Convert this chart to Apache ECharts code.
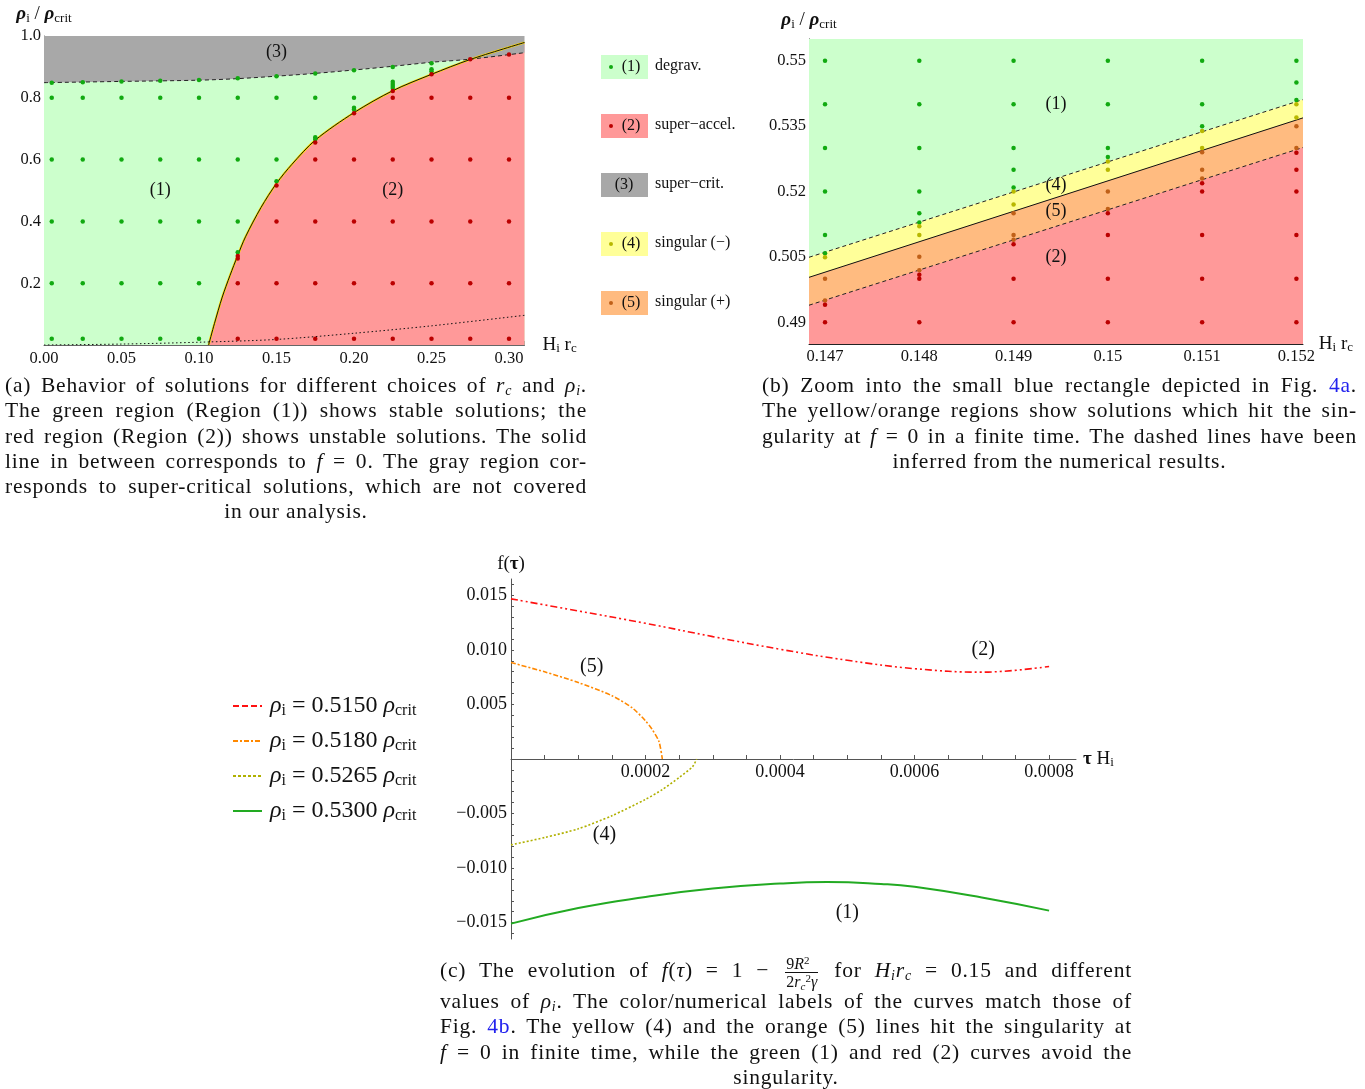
<!DOCTYPE html>
<html><head><meta charset="utf-8">
<script src="https://cdn.jsdelivr.net/npm/echarts@6/dist/echarts.min.js"></script>
<style>
html,body{margin:0;padding:0;background:#fff;}
#chart{position:absolute;left:0;top:0;width:1365px;height:1089px;}
.cap{position:absolute;font-family:"Liberation Serif","Times New Roman",serif;font-size:21.5px;letter-spacing:0.8px;color:#111;line-height:25.3px;}
.cap .j{text-align:justify;text-align-last:justify;white-space:nowrap;}
.cap .c{text-align:center;}
.cap i{font-style:italic;}
.cap sub{font-size:14px;vertical-align:-3px;line-height:0;}
.cap sup{font-size:14px;vertical-align:7px;line-height:0;}
.lnk{color:#2222ee;}
.frac{display:inline-block;vertical-align:middle;text-align:center;font-size:16px;line-height:17px;margin:0 3px;letter-spacing:0;}
.frac span{display:block;padding:0 1px;}
.frac .num{border-bottom:1px solid #111;}
</style>
</head><body>
<div id="chart"></div>
<div class="cap" style="left:5px;top:373px;width:582px;">
<div class="j">(a) Behavior of solutions for different choices of <i>r</i><sub><i>c</i></sub> and <i>ρ</i><sub><i>i</i></sub>.</div>
<div class="j">The green region (Region (1)) shows stable solutions; the</div>
<div class="j">red region (Region (2)) shows unstable solutions. The solid</div>
<div class="j">line in between corresponds to <i>f</i> = 0. The gray region cor-</div>
<div class="j">responds to super-critical solutions, which are not covered</div>
<div class="c">in our analysis.</div>
</div>
<div class="cap" style="left:762px;top:373px;width:595px;">
<div class="j">(b) Zoom into the small blue rectangle depicted in Fig. <span class="lnk">4a</span>.</div>
<div class="j">The yellow/orange regions show solutions which hit the sin-</div>
<div class="j">gularity at <i>f</i> = 0 in a finite time. The dashed lines have been</div>
<div class="c">inferred from the numerical results.</div>
</div>
<div class="cap" style="left:440px;top:951px;width:692px;">
<div class="j" style="height:38px;line-height:38px;">(c) The evolution of <i>f</i>(<i>τ</i>) = 1 − <span class="frac"><span class="num">9<i>R</i><sup style="font-size:11px;vertical-align:5px">2</sup></span><span>2<i>r</i><sub style="font-size:11px"><i>c</i></sub><sup style="font-size:11px;vertical-align:5px">2</sup><i>γ</i></span></span> for <i>H</i><sub><i>i</i></sub><i>r</i><sub><i>c</i></sub> = 0.15 and different</div>
<div class="j">values of <i>ρ</i><sub><i>i</i></sub>. The color/numerical labels of the curves match those of</div>
<div class="j">Fig. <span class="lnk">4b</span>. The yellow (4) and the orange (5) lines hit the singularity at</div>
<div class="j"><i>f</i> = 0 in finite time, while the green (1) and red (2) curves avoid the</div>
<div class="c">singularity.</div>
</div>
<script>
// ---------- Plot (a) data ----------
const aXTicks = [0, 0.05, 0.1, 0.15, 0.2, 0.25, 0.3];
const aYTicks = [0.2, 0.4, 0.6, 0.8, 1.0];
const aDashed = [[0,0.849],[0.05,0.853],[0.1,0.857],[0.125,0.862],[0.15,0.870],[0.175,0.879],[0.2,0.890],[0.225,0.902],[0.25,0.915],[0.275,0.925],[0.31,0.946]];
const aZero = [[0.1062,0],[0.11,0.07],[0.115,0.155],[0.12,0.225],[0.125,0.29],[0.13,0.35],[0.14,0.445],[0.15,0.523],[0.16,0.585],[0.175,0.663],[0.2,0.752],[0.225,0.823],[0.25,0.876],[0.275,0.924],[0.31,0.979]];
const aDotted = [[0,0],[0.05,0.003],[0.1,0.009],[0.15,0.018],[0.2,0.038],[0.25,0.062],[0.31,0.096]];
const aGreenDots = [
 [0.005,0.02],[0.025,0.02],[0.05,0.02],[0.075,0.02],[0.1,0.02],
 [0.005,0.2],[0.025,0.2],[0.05,0.2],[0.075,0.2],[0.1,0.2],
 [0.005,0.4],[0.025,0.4],[0.05,0.4],[0.075,0.4],[0.1,0.4],[0.125,0.4],
 [0.005,0.6],[0.025,0.6],[0.05,0.6],[0.075,0.6],[0.1,0.6],[0.125,0.6],[0.15,0.6],
 [0.005,0.8],[0.025,0.8],[0.05,0.8],[0.075,0.8],[0.1,0.8],[0.125,0.8],[0.15,0.8],[0.175,0.8],[0.2,0.8],
 [0.005,0.849],[0.025,0.85],[0.05,0.853],[0.075,0.855],[0.1,0.858],[0.125,0.863],[0.15,0.870],[0.175,0.879],[0.2,0.889],[0.225,0.9],[0.25,0.912],
 [0.125,0.3],[0.15,0.53],[0.175,0.672],[0.175,0.666],[0.2,0.768],[0.2,0.762],[0.225,0.852],[0.225,0.845],[0.225,0.838],[0.225,0.832],[0.25,0.892],[0.25,0.886]
];
const aRedDots = [
 [0.125,0.02],[0.15,0.02],[0.175,0.02],[0.2,0.02],[0.225,0.02],[0.25,0.02],[0.275,0.02],[0.3,0.02],
 [0.125,0.2],[0.15,0.2],[0.175,0.2],[0.2,0.2],[0.225,0.2],[0.25,0.2],[0.275,0.2],[0.3,0.2],
 [0.15,0.4],[0.175,0.4],[0.2,0.4],[0.225,0.4],[0.25,0.4],[0.275,0.4],[0.3,0.4],
 [0.175,0.6],[0.2,0.6],[0.225,0.6],[0.25,0.6],[0.275,0.6],[0.3,0.6],
 [0.225,0.8],[0.25,0.8],[0.275,0.8],[0.3,0.8],
 [0.275,0.925],[0.3,0.94],
 [0.125,0.288],[0.125,0.28],[0.15,0.516],[0.175,0.655],[0.2,0.75],[0.225,0.822],[0.25,0.876]
];
const aBlueRect = [[0.147,0.485],[0.152,0.555]];
const aLabels = [['(3)',0.15,0.948],['(1)',0.075,0.5],['(2)',0.225,0.5]];

// ---------- Plot (b) data ----------
const bXTicks = [0.147, 0.148, 0.149, 0.15, 0.151, 0.152];
const bYTicks = [0.49, 0.505, 0.52, 0.535, 0.55];
const bUpper = [[0.14683,0.5049],[0.15207,0.5411]];
const bSolid = [[0.14683,0.5003],[0.15207,0.5369]];
const bLower = [[0.14683,0.4939],[0.15207,0.5301]];
const bGreenDots = [
 [0.147,0.55],[0.147,0.54],[0.147,0.53],[0.147,0.52],[0.147,0.51],[0.147,0.5058],
 [0.148,0.55],[0.148,0.54],[0.148,0.53],[0.148,0.52],[0.148,0.515],[0.148,0.5129],
 [0.149,0.55],[0.149,0.54],[0.149,0.53],[0.149,0.525],[0.149,0.5209],
 [0.15,0.55],[0.15,0.54],[0.15,0.53],[0.15,0.5279],
 [0.151,0.55],[0.151,0.54],[0.151,0.535],
 [0.152,0.55],[0.152,0.545],[0.152,0.541]
];
const bYellowDots = [
 [0.147,0.5049],[0.148,0.512],[0.148,0.51],[0.149,0.52],[0.149,0.517],
 [0.15,0.5269],[0.15,0.525],[0.151,0.5339],[0.151,0.53],[0.152,0.54],[0.152,0.537]
];
const bOrangeDots = [
 [0.147,0.5],[0.147,0.495],[0.148,0.505],[0.148,0.5019],[0.149,0.515],[0.149,0.51],[0.149,0.5089],
 [0.15,0.52],[0.15,0.516],[0.151,0.529],[0.151,0.525],[0.151,0.523],[0.152,0.535],[0.152,0.53]
];
const bRedDots = [
 [0.147,0.494],[0.147,0.49],
 [0.148,0.5009],[0.148,0.5],[0.148,0.49],
 [0.149,0.5079],[0.149,0.5],[0.149,0.49],
 [0.15,0.515],[0.15,0.51],[0.15,0.5],[0.15,0.49],
 [0.151,0.5219],[0.151,0.52],[0.151,0.51],[0.151,0.5],[0.151,0.49],
 [0.152,0.5289],[0.152,0.525],[0.152,0.52],[0.152,0.51],[0.152,0.5],[0.152,0.49]
];
const bLabels = [['(1)',0.14945,0.5401],['(4)',0.14945,0.5214],['(5)',0.14945,0.5155],['(2)',0.14945,0.5049]];

// ---------- Plot (c) data ----------
const cXLabelTicks = [0.0002, 0.0004, 0.0006, 0.0008];
const cXMinorTicks = [0.00005,0.0001,0.00015,0.0002,0.00025,0.0003,0.00035,0.0004,0.00045,0.0005,0.00055,0.0006,0.00065,0.0007,0.00075,0.0008];
const cYLabelTicks = [-0.015, -0.01, -0.005, 0.005, 0.01, 0.015];
const cYMinorTicks = [-0.016,-0.015,-0.014,-0.013,-0.012,-0.011,-0.01,-0.009,-0.008,-0.007,-0.006,-0.005,-0.004,-0.003,-0.002,-0.001,0.001,0.002,0.003,0.004,0.005,0.006,0.007,0.008,0.009,0.01,0.011,0.012,0.013,0.014,0.015,0.016];
const cRed = [[0,0.01468],[0.0001,0.01357],[0.0002,0.01244],[0.0003,0.01122],[0.0004,0.01006],[0.0005,0.00905],[0.0006,0.00828],[0.0007,0.00796],[0.0008,0.00848]];
const cOrange = [[0,0.00884],[0.00005,0.00799],[0.0001,0.00701],[0.00015,0.0058],[0.00018,0.0047],[0.0002,0.0035],[0.00021,0.0027],[0.00022,0.0016],[0.000225,0]];
const cOlive = [[0,-0.00787],[0.00005,-0.0072],[0.0001,-0.0064],[0.00015,-0.0052],[0.0002,-0.0037],[0.000225,-0.0028],[0.00025,-0.0017],[0.00027,-0.0007],[0.000276,0]];
const cGreen = [[0,-0.01509],[0.0001,-0.01366],[0.0002,-0.01265],[0.0003,-0.01188],[0.0004,-0.01142],[0.00047,-0.01128],[0.00055,-0.01145],[0.0006,-0.01172],[0.0007,-0.0127],[0.0008,-0.0139]];
const cLabels = [['(2)',0.000702,0.0100],['(5)',0.00012,0.00844],['(4)',0.000139,-0.00697],['(1)',0.0005,-0.01413]];
const cLegendNames = ['0.5150','0.5180','0.5265','0.5300'];

// ---------- Legend (a/b) ----------
const regionLegend = [['(1)','degrav.'],['(2)','super\u2212accel.'],['(3)','super\u2212crit.'],['(4)','singular (\u2212)'],['(5)','singular (+)']];

const SERIF = '"Liberation Serif","Times New Roman",serif';
const C = {
  green:'#ccffcc', red:'#ff9999', gray:'#a8a8a8', yellow:'#ffff99', orange:'#ffbb80',
  gDot:'#11aa11', rDot:'#bb0000', yDot:'#b8b800', oDot:'#c06018',
  cRed:'#ff1111', cOrange:'#ff8800', cOlive:'#b0b000', cGreen:'#22aa22'
};
const regionFill = [C.green, C.red, C.gray, C.yellow, C.orange];
const regionDot = [C.gDot, C.rDot, null, C.yDot, C.oDot];

const axisTitle = {
  b:{fontFamily:SERIF,fontSize:19,fontWeight:'bold',fontStyle:'italic',color:'#111'},
  s:{fontFamily:SERIF,fontSize:13,color:'#111',padding:[8,0,0,0]},
  n:{fontFamily:SERIF,fontSize:19,color:'#111'},
  bn:{fontFamily:SERIF,fontSize:19,fontWeight:'bold',color:'#111'}
};
const rhoTitle = '{b|ρ}{s|i}{n| / }{b|ρ}{s|crit}';
const hrTitle = '{n|H}{s|i}{n| r}{s|c}';

const tickFont = {fontFamily:SERIF,fontSize:16.5,color:'#111'};
const tickFontC = {fontFamily:SERIF,fontSize:18,color:'#111'};

function areaSeries(data, color, origin, xi, z){
  return {type:'line', data, xAxisIndex:xi, yAxisIndex:xi, symbol:'none', silent:true,
    lineStyle:{width:0,opacity:0}, areaStyle:{color, opacity:1, origin}, z, smooth:0.3};
}
function lineS(data, color, width, type, xi, z, smooth){
  return {type:'line', data, xAxisIndex:xi, yAxisIndex:xi, symbol:'none', silent:true,
    lineStyle:{color, width, type}, z, smooth: smooth===undefined?0.3:smooth};
}
function dots(data, color, xi, size){
  return {type:'scatter', data, xAxisIndex:xi, yAxisIndex:xi, symbolSize:size||4.5, silent:true,
    itemStyle:{color, opacity:1}, z:10};
}
function labels(arr, xi, size){
  return {type:'scatter', xAxisIndex:xi, yAxisIndex:xi, symbolSize:1, silent:true, z:12,
    itemStyle:{color:'rgba(0,0,0,0)'},
    data: arr.map(a=>({name:a[0], value:[a[1],a[2]]})),
    label:{show:true, position:'inside', formatter:p=>p.name, fontFamily:SERIF, fontSize:size||18, color:'#111', opacity:1}};
}

const chart = echarts.init(document.getElementById('chart'), null, {renderer:'canvas'});

const graphic = [];
regionLegend.forEach((r,i)=>{
  const cy = 67 + i*59;
  graphic.push({type:'rect', shape:{x:601,y:cy-12,width:47,height:24}, style:{fill:regionFill[i]}, silent:true});
  if (regionDot[i]) graphic.push({type:'circle', shape:{cx:611,cy:cy,r:2}, style:{fill:regionDot[i]}, silent:true});
  graphic.push({type:'text', x: regionDot[i]?631:624, y:cy, style:{text:r[0], font:'16px '+SERIF, fill:'#111', align:'center', verticalAlign:'middle'}, silent:true});
  graphic.push({type:'text', x:655, y:cy-1, style:{text:r[1], font:'16px '+SERIF, fill:'#111', align:'left', verticalAlign:'middle'}, silent:true});
});
const cLegColors = [C.cRed, C.cOrange, C.cOlive, C.cGreen];
const cLegDash = [[6,3],[5,2,2,2],[3,2],null];
cLegendNames.forEach((v,i)=>{
  const cy = 706 + i*35;
  graphic.push({type:'line', shape:{x1:233,y1:cy,x2:262,y2:cy}, style:{stroke:cLegColors[i], lineWidth:2, lineDash:cLegDash[i]}, silent:true});
  graphic.push({type:'text', x:270, y:cy, silent:true, style:{
    text:'{r|ρ}{s|i}{t| = '+v+' }{r|ρ}{s|crit}', verticalAlign:'middle', align:'left',
    rich:{
      r:{fontFamily:SERIF,fontSize:24,fontStyle:'italic',fill:'#111',color:'#111'},
      s:{fontFamily:SERIF,fontSize:16,fill:'#111',color:'#111',padding:[10,0,0,0]},
      t:{fontFamily:SERIF,fontSize:24,fill:'#111',color:'#111'}
    }}});
});

const option = {
  animation:false,
  backgroundColor:'#fff',
  graphic,
  grid:[
    {left:44, top:36, width:480.5, height:309, containLabel:false},
    {left:809, top:39, width:494, height:305, containLabel:false},
    {left:511, top:579, width:565, height:360, containLabel:false},
    {left:511, top:758, width:565, height:1, containLabel:false}
  ],
  xAxis:[
    {type:'value', gridIndex:0, min:0, max:0.31, interval:0.05,
     name:hrTitle, nameLocation:'end', nameGap:18, nameTextStyle:{rich:axisTitle, verticalAlign:'middle'},
     axisLine:{lineStyle:{color:'#666',width:1}},
     axisTick:{show:true,inside:true,length:4,lineStyle:{color:'#666'}},
     minorTick:{show:true,splitNumber:5,length:2,lineStyle:{color:'#888'}},
     splitLine:{show:false}, minorSplitLine:{show:false},
     axisLabel:{...tickFont, margin:5, showMaxLabel:false, formatter:v=>v.toFixed(2)}},
    {type:'value', gridIndex:1, min:0.14683, max:0.15207,
     name:hrTitle, nameLocation:'end', nameGap:9, nameTextStyle:{rich:axisTitle, verticalAlign:'middle'},
     axisLine:{lineStyle:{color:'#222',width:1}},
     axisTick:{show:true,inside:true,length:4,customValues:bXTicks,lineStyle:{color:'#222'}},
     splitLine:{show:false},
     axisLabel:{...tickFont, margin:4, customValues:bXTicks, formatter:v=>String(+v.toFixed(3))}},
    {type:'value', gridIndex:2, min:0, max:0.00084, show:false,
     axisLine:{show:false}, axisTick:{show:false}, axisLabel:{show:false}, splitLine:{show:false}},
    {type:'value', gridIndex:3, min:0, max:0.00084, position:'bottom',
     name:'{bn|τ}{n| H}{s|i}', nameLocation:'end', nameGap:7, nameTextStyle:{rich:axisTitle, verticalAlign:'middle'},
     axisLine:{onZero:false, lineStyle:{color:'#555',width:1}},
     axisTick:{show:true,inside:true,length:4,customValues:cXMinorTicks,lineStyle:{color:'#555'}},
     splitLine:{show:false},
     axisLabel:{...tickFontC, margin:4, customValues:cXLabelTicks, formatter:v=>v.toFixed(4)}}
  ],
  yAxis:[
    {type:'value', gridIndex:0, min:0, max:1, interval:0.2,
     name:rhoTitle, nameLocation:'end', nameGap:11, nameTextStyle:{rich:axisTitle, align:'center'},
     axisLine:{show:true,lineStyle:{color:'#666',width:1}},
     axisTick:{show:true,inside:true,length:4,lineStyle:{color:'#666'}},
     minorTick:{show:true,splitNumber:4,length:2,lineStyle:{color:'#888'}},
     splitLine:{show:false}, minorSplitLine:{show:false},
     axisLabel:{...tickFont, margin:3, formatter:v=>v===0?'':v.toFixed(1)}},
    {type:'value', gridIndex:1, min:0.485, max:0.555,
     name:rhoTitle, nameLocation:'end', nameGap:8, nameTextStyle:{rich:axisTitle, align:'center'},
     axisLine:{show:true,lineStyle:{color:'#222',width:1}},
     axisTick:{show:true,inside:true,length:4,customValues:bYTicks,lineStyle:{color:'#222'}},
     splitLine:{show:false},
     axisLabel:{...tickFont, margin:3, customValues:bYTicks, formatter:v=>String(+v.toFixed(3))}},
    {type:'value', gridIndex:2, min:-0.0165, max:0.0165,
     name:'{n|f(}{bn|τ}{n|)}', nameLocation:'end', nameGap:5, nameTextStyle:{rich:axisTitle, align:'center'},
     axisLine:{show:true,lineStyle:{color:'#555',width:1}},
     axisTick:{show:true,inside:true,length:3,customValues:cYMinorTicks,lineStyle:{color:'#555'}},
     splitLine:{show:false},
     axisLabel:{...tickFontC, margin:4, customValues:cYLabelTicks, formatter:v=>(v<0?'\u2212':'')+Math.abs(v).toFixed(3)}},
    {type:'value', gridIndex:3, min:0, max:1, show:false, splitLine:{show:false}}
  ],
  series:[
    // plot (a)
    areaSeries(aDashed, C.green, 'start', 0, 1),
    areaSeries(aZero, C.red, 'start', 0, 2),
    areaSeries(aDashed, C.gray, 'end', 0, 3),
    lineS(aZero, '#ffdd00', 2.2, 'solid', 0, 4),
    lineS(aZero, '#111', 1, 'solid', 0, 5),
    lineS(aDashed, '#222', 1, [4,3], 0, 5),
    lineS(aDotted, '#111', 1, [1.5,2.5], 0, 5),
    dots(aGreenDots, C.gDot, 0),
    dots(aRedDots, C.rDot, 0),
    {type:'line', xAxisIndex:0, yAxisIndex:0, data:[], symbol:'none', silent:true, z:11,
     markArea:{silent:true, itemStyle:{color:'rgba(0,0,0,0)', borderColor:'#2233ff', borderWidth:1},
       data:[[{coord:aBlueRect[0]},{coord:aBlueRect[1]}]]}},
    labels(aLabels, 0, 18),
    // plot (b)
    areaSeries(bUpper, C.green, 'end', 1, 1),
    areaSeries(bUpper, C.yellow, 'start', 1, 1),
    areaSeries(bSolid, C.orange, 'start', 1, 2),
    areaSeries(bLower, C.red, 'start', 1, 3),
    lineS(bUpper, '#222', 1, [4,3], 1, 5, false),
    lineS(bSolid, '#111', 1, 'solid', 1, 5, false),
    lineS(bLower, '#222', 1, [4,3], 1, 5, false),
    dots(bGreenDots, C.gDot, 1),
    dots(bYellowDots, C.yDot, 1),
    dots(bOrangeDots, C.oDot, 1),
    dots(bRedDots, C.rDot, 1),
    labels(bLabels, 1, 18),
    // plot (c)
    lineS(cRed, C.cRed, 1.6, [7,3,2,3,2,3], 2, 5, 0.4),
    lineS(cOrange, C.cOrange, 1.6, [5,2,2,2], 2, 5, 0.25),
    lineS(cOlive, C.cOlive, 1.6, [2,2], 2, 5, 0.25),
    lineS(cGreen, C.cGreen, 2, 'solid', 2, 5, 0.5),
    labels(cLabels, 2, 20)
  ]
};
chart.setOption(option);
</script>
</body></html>
